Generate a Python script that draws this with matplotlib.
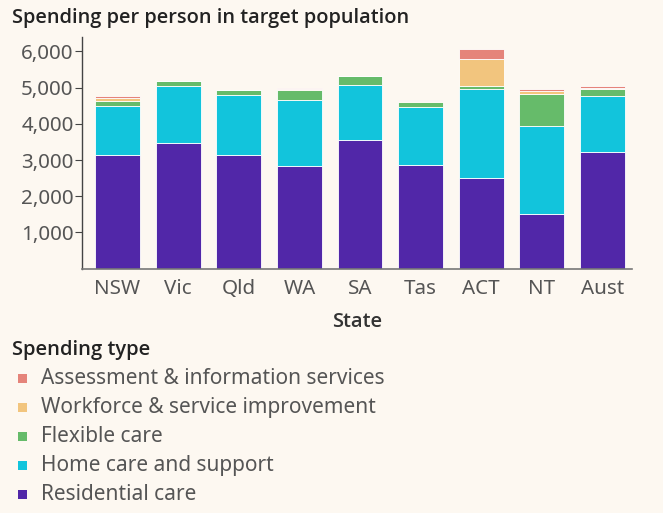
import matplotlib
matplotlib.use("Agg")
import matplotlib.pyplot as plt
from matplotlib.patches import Rectangle

states = ["NSW", "Vic", "Qld", "WA", "SA", "Tas", "ACT", "NT", "Aust"]
residential = [3135, 3467, 3135, 2831, 3550, 2859, 2516, 1512, 3218]
home_care = [1355, 1584, 1659, 1825, 1529, 1603, 2444, 2425, 1557]
flexible = [150, 139, 138, 276, 240, 138, 91, 885, 185]
workforce = [70, 0, 0, 20, 0, 25, 755, 91, 36]
assessment = [73, 0, 0, 44, 0, 39, 268, 55, 47]

series_names = ["Residential care", "Home care and support", "Flexible care",
                "Workforce & service improvement", "Assessment & information services"]
series_vals = [residential, home_care, flexible, workforce, assessment]
colors = ["#5127a8", "#12c4dc", "#66bb6a", "#f2c57e", "#e5847a"]
yticks = [1000, 2000, 3000, 4000, 5000, 6000]

bg = "#fdf8f1"
plt.rcParams['font.family'] = ['Noto Sans', 'DejaVu Sans']
bold_font = ['Open Sans', 'Noto Sans', 'DejaVu Sans']

fig = plt.figure(figsize=(6.63, 5.13), dpi=100, facecolor=bg)
ax = fig.add_axes([82/663, 1 - 268.7/513, (632-82)/663, (268.7-37)/513])
ax.set_facecolor(bg)

x = list(range(len(states)))
bottom = [0]*len(states)
for name, vals, c in zip(series_names, series_vals, colors):
    ax.bar(x, vals, bottom=bottom, width=0.74, color=c, edgecolor="white", linewidth=0.6)
    bottom = [b + v for b, v in zip(bottom, vals)]

ax.set_xlim(-0.586, 8.487)
ax.set_ylim(0, 6400)
ax.set_yticks(yticks)
ax.set_yticklabels([f"{v:,}" for v in yticks])
ax.set_xticks(x)
ax.set_xticklabels(states)
for s in ["top", "right"]:
    ax.spines[s].set_visible(False)
ax.spines["left"].set_color("#444444")
ax.spines["bottom"].set_color("#777777")
ax.spines["left"].set_linewidth(1.0)
ax.spines["bottom"].set_linewidth(1.2)
ax.tick_params(axis="y", length=5, color="#444444", labelsize=14.8, labelcolor="#555555", pad=1)
ax.tick_params(axis="x", length=0, labelsize=14.8, labelcolor="#555555", pad=7.5)
ax.set_xlabel("State", fontsize=14.5, color="#333333", fontweight=600,
              family=bold_font, labelpad=9)

fig.text(12/663, 1 - 18/513, "Spending per person in target population", fontsize=14.4,
         fontweight=600, family=bold_font, color="#222222", va="center", ha="left")

fig.text(12/663, 1 - 350/513, "Spending type", fontsize=14.5, fontweight=600,
         family=bold_font, color="#222222", va="center", ha="left")
legend_order = list(reversed(range(len(series_names))))
for i, idx in enumerate(legend_order):
    yc = 378 + i * 29.2
    fig.patches.append(Rectangle((18/663, 1 - (yc + 4.5)/513), 9/663, 9/513,
                                 transform=fig.transFigure, facecolor=colors[idx],
                                 edgecolor="none"))
    fig.text(41/663, 1 - yc/513, series_names[idx], fontsize=15, color="#555555",
             va="center", ha="left")

fig.savefig("out.png", dpi=100, facecolor=bg)
